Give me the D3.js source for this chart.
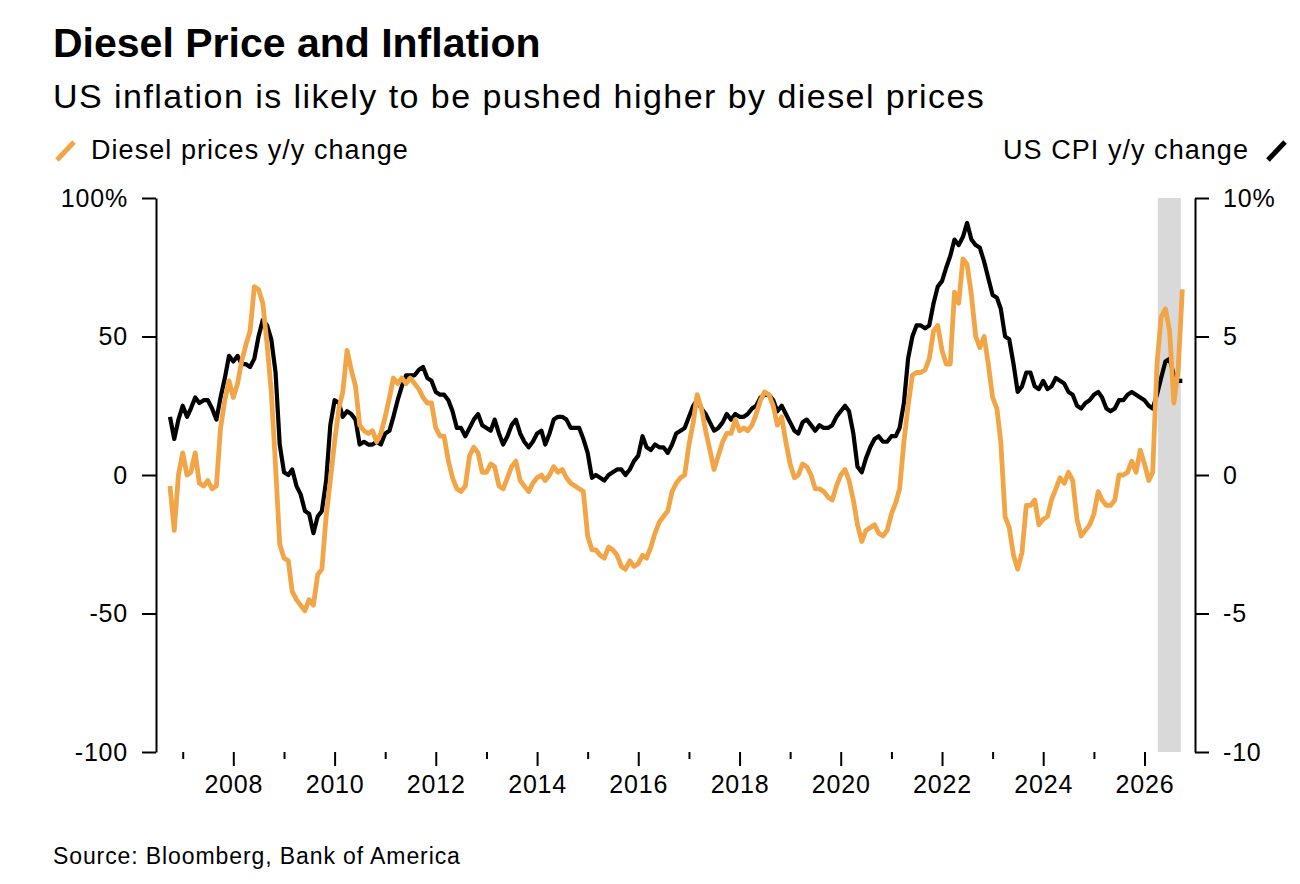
<!DOCTYPE html>
<html>
<head>
<meta charset="utf-8">
<script src="https://cdn.jsdelivr.net/npm/d3@7"></script>
<style>
  body { margin: 0; background: #fff; }
  text { font-family: "Liberation Sans", Arial, sans-serif; fill: #000; }
</style>
</head>
<body>
<div id="chart"></div>
<script>
// monthly data, first value = Sep 2006 (plotted at month end)
const firstMonth = new Date(2006, 8, 1)

// US CPI y/y change, %
const cpi = [
  2.1, 1.3, 2.0, 2.5,
  2.1, 2.4, 2.8, 2.6, 2.7, 2.7, 2.4, 2.0, 2.8, 3.5, 4.3, 4.1,
  4.3, 4.0, 4.0, 3.9, 4.2, 5.0, 5.6, 5.4, 4.9, 3.7, 1.1, 0.1,
  0.0, 0.2, -0.4, -0.7, -1.3, -1.4, -2.1, -1.5, -1.3, -0.2, 1.8, 2.7,
  2.6, 2.1, 2.3, 2.2, 2.0, 1.1, 1.2, 1.1, 1.1, 1.2, 1.1, 1.5,
  1.6, 2.1, 2.7, 3.2, 3.6, 3.6, 3.6, 3.8, 3.9, 3.5, 3.4, 3.0,
  2.9, 2.9, 2.7, 2.3, 1.7, 1.7, 1.4, 1.7, 2.0, 2.2, 1.8, 1.7,
  1.6, 2.0, 1.5, 1.1, 1.4, 1.8, 2.0, 1.5, 1.2, 1.0, 1.2, 1.5,
  1.6, 1.1, 1.5, 2.0, 2.1, 2.1, 2.0, 1.7, 1.7, 1.7, 1.3, 0.8,
  -0.1, 0.0, -0.1, -0.2, 0.0, 0.1, 0.2, 0.2, 0.0, 0.2, 0.5, 0.7,
  1.4, 1.0, 0.9, 1.1, 1.0, 1.0, 0.8, 1.1, 1.5, 1.6, 1.7, 2.1,
  2.5, 2.7, 2.4, 2.2, 1.9, 1.6, 1.7, 1.9, 2.2, 2.0, 2.2, 2.1,
  2.1, 2.2, 2.4, 2.5, 2.8, 2.9, 2.9, 2.7, 2.3, 2.5, 2.2, 1.9,
  1.6, 1.5, 1.9, 2.0, 1.8, 1.6, 1.8, 1.7, 1.7, 1.8, 2.1, 2.3,
  2.5, 2.3, 1.5, 0.3, 0.1, 0.6, 1.0, 1.3, 1.4, 1.2, 1.2, 1.4,
  1.4, 1.7, 2.6, 4.2, 5.0, 5.4, 5.4, 5.3, 5.4, 6.2, 6.8, 7.0,
  7.5, 7.9, 8.5, 8.3, 8.6, 9.1, 8.5, 8.3, 8.2, 7.7, 7.1, 6.5,
  6.4, 6.0, 5.0, 4.9, 4.0, 3.0, 3.2, 3.7, 3.7, 3.2, 3.1, 3.4,
  3.1, 3.2, 3.5, 3.4, 3.3, 3.0, 2.9, 2.5, 2.4, 2.6, 2.7, 2.9,
  3.0, 2.8, 2.4, 2.3, 2.4, 2.7, 2.7, 2.9, 3.0, 2.9, 2.8, 2.7,
  2.5, 2.4, 2.9, 3.5, 4.1, 4.2, 3.6, 3.4, 3.4
]

// Diesel prices y/y change, %
const diesel = [
  -4, -20, 0, 8, 0, 1, 8, -3, -4, -2, -5, -4,
  17, 27, 34, 28, 33, 41, 47, 52, 68, 67, 62, 47,
  30, 3, -25, -30, -31, -42, -45, -47, -49, -45, -47, -36,
  -34, -15, -2, 12, 24, 30, 45, 38, 32, 18, 16, 15,
  16, 12, 15, 21, 28, 35, 33, 35, 33, 35, 33, 31,
  28, 26, 26, 17, 14, 14, 5, -1, -5, -6, -4, 7,
  10, 8, 1, 1, 4, 3, -4, -5, -1, 3, 5, -2,
  -4, -6, -3, -1, 0, -2, 0, 3, 1, 2, -1, -3,
  -4, -5, -6, -22, -27, -27, -29, -30, -26, -27, -29, -33,
  -34, -31, -33, -32, -29, -30, -26, -21, -17, -15, -13, -6,
  -3, -1, 0, 11, 19, 29, 24, 16, 9, 2, 7, 12,
  15, 15, 20, 16, 17, 16, 18, 22, 27, 30, 29, 25,
  18, 21, 12, 4, -1, 0, 4, 3, 0, -5, -5, -6,
  -8, -9, -4, 0, 2, -2, -9, -18, -24, -20, -19, -18,
  -21, -22, -20, -14, -10, -5, 12, 25, 36, 37, 37, 38,
  42, 52, 54, 45, 40, 40, 66, 62, 78, 76, 65, 50,
  46, 50, 40, 28, 24, 12, -15, -19, -29, -34, -28, -11,
  -11, -9, -18, -16, -15, -9, -5, -1, -3, 1, -2, -16,
  -22, -20, -18, -14, -6, -9, -11, -11, -9, 0, 0, 1,
  5, 1, 9, 4, -2, 1, 40, 57, 60, 52, 26, 38, 67
]

const dieselTicks = [-100, -50, 0, 50, 100]
const cpiTicks = [-10, -5, 0, 5, 10]
const majorYears = d3.range(2008, 2027, 2)
const minorYears = d3.range(2007, 2026, 2)
const shaded = [new Date(2026, 3, 7), new Date(2026, 8, 20)]

const orange = '#f2a546'
const width = 1300, height = 884

const svg = d3.select('#chart')
  .append('svg')
  .attr('width', width)
  .attr('height', height)

// scales
const x = d3.scaleTime()
  .domain([new Date(2008, 0, 1), new Date(2026, 0, 1)])
  .range([233.3, 1144.5])
const yL = d3.scaleLinear().domain([-100, 100]).range([752, 198])
const yR = d3.scaleLinear().domain([-10, 10]).range([752, 198])

const dates = cpi.map((_, i) => d3.timeMonth.offset(firstMonth, i + 1))

// titles
svg.append('text').attr('x', 53).attr('y', 57)
  .style('font-size', '41px').style('font-weight', 'bold').style('letter-spacing', '0px')
  .text('Diesel Price and Inflation')
svg.append('text').attr('x', 53).attr('y', 108)
  .style('font-size', '34px').style('letter-spacing', '1.45px')
  .text('US inflation is likely to be pushed higher by diesel prices')

// legend
svg.append('line').attr('x1', 57).attr('y1', 160).attr('x2', 74).attr('y2', 142)
  .attr('stroke', orange).attr('stroke-width', 5)
svg.append('text').attr('x', 91).attr('y', 159)
  .style('font-size', '27px').style('letter-spacing', '1.05px')
  .text('Diesel prices y/y change')
svg.append('line').attr('x1', 1268).attr('y1', 160).attr('x2', 1285).attr('y2', 142)
  .attr('stroke', '#000').attr('stroke-width', 5)
svg.append('text').attr('x', 1249).attr('y', 159).attr('text-anchor', 'end')
  .style('font-size', '27px').style('letter-spacing', '1.05px')
  .text('US CPI y/y change')

// shaded period
svg.append('rect')
  .attr('x', x(shaded[0]))
  .attr('width', x(shaded[1]) - x(shaded[0]))
  .attr('y', yL(100))
  .attr('height', yL(-100) - yL(100))
  .attr('fill', '#d9d9d9')

// lines
const cpiLine = d3.line().x((d, i) => x(dates[i])).y(d => yR(d))
const dieselLine = d3.line().x((d, i) => x(dates[i])).y(d => yL(d))

svg.append('path').datum(cpi)
  .attr('d', cpiLine)
  .attr('fill', 'none').attr('stroke', '#000').attr('stroke-width', 4.2)
  .attr('stroke-linejoin', 'round')
svg.append('path').datum(diesel)
  .attr('d', dieselLine)
  .attr('fill', 'none').attr('stroke', orange).attr('stroke-width', 4.8)
  .attr('stroke-linejoin', 'round')

// axes
const styleAxis = (g, size) => {
  g.selectAll('.domain, line').attr('stroke', '#000').attr('stroke-width', 2)
  g.selectAll('text').style('font-size', size).style('font-family', '"Liberation Sans", Arial, sans-serif')
    .style('letter-spacing', '0.8px')
}

svg.append('g')
  .attr('transform', 'translate(156,0)')
  .call(d3.axisLeft(yL).tickValues(dieselTicks).tickSize(14).tickSizeOuter(0).tickPadding(14)
    .tickFormat(d => d === 100 ? '100%' : String(d)))
  .call(g => styleAxis(g, '25px'))

svg.append('g')
  .attr('transform', 'translate(1195,0)')
  .call(d3.axisRight(yR).tickValues(cpiTicks).tickSize(14).tickSizeOuter(0).tickPadding(14)
    .tickFormat(d => d === 10 ? '10%' : String(d)))
  .call(g => styleAxis(g, '25px'))

svg.append('g')
  .attr('transform', 'translate(0,752)')
  .call(d3.axisBottom(x).tickValues(majorYears.map(y => new Date(y, 0, 1)))
    .tickSize(14).tickPadding(9).tickFormat(d3.timeFormat('%Y')))
  .call(g => styleAxis(g, '25px'))
  .call(g => g.select('.domain').remove())

svg.append('g')
  .attr('transform', 'translate(0,752)')
  .call(d3.axisBottom(x).tickValues(minorYears.map(y => new Date(y, 0, 1)))
    .tickSize(7).tickFormat(''))
  .call(g => styleAxis(g, '25px'))
  .call(g => g.select('.domain').remove())

// source
svg.append('text').attr('x', 53).attr('y', 864)
  .style('font-size', '23px').style('letter-spacing', '0.9px')
  .text('Source: Bloomberg, Bank of America')
</script>
</body>
</html>
